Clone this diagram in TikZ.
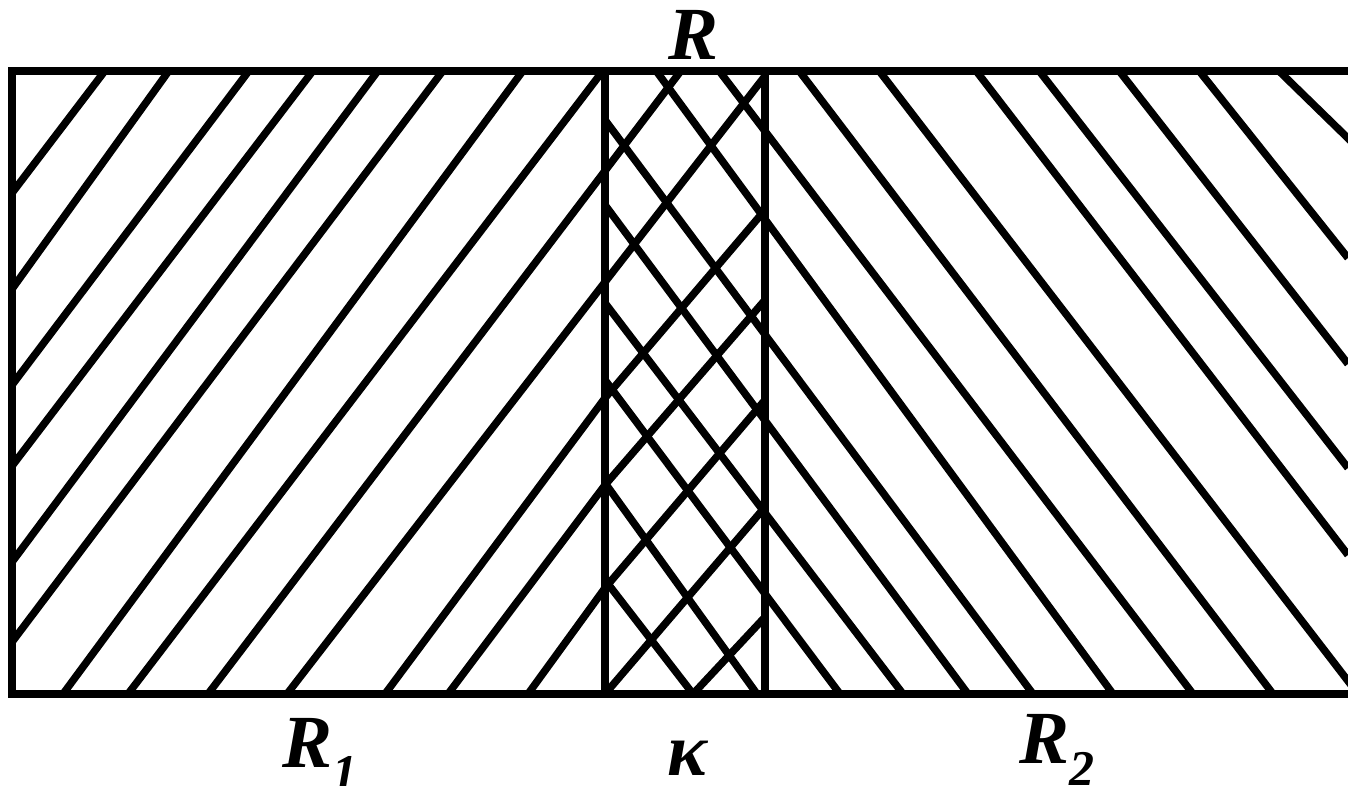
\documentclass[tikz,border=0pt]{standalone}
\usepackage{fontspec}
\setmainfont{Liberation Serif}
\newfontfamily\labfont{Liberation Serif}[UprightFont={* Bold Italic}]
\begin{document}
\begin{tikzpicture}[x=1pt,y=-1pt,
  frame/.style={line width=8.5pt, line join=miter},
  hatch/.style={line width=7.5pt},
  lab/.style={font=\fontsize{75}{75}\selectfont\labfont, inner sep=0pt, anchor=base}]
\useasboundingbox (0,0) rectangle (1348,786);
\begin{scope}
\clip (0,0) rectangle (1348,786);
% left region hatching (/) continuing through the strip
\draw[hatch] (12,193) -- (104,72);
\draw[hatch] (12,289) -- (168,72);
\draw[hatch] (12,385) -- (248,72);
\draw[hatch] (12,466) -- (312,72);
\draw[hatch] (12,562) -- (377,72);
\draw[hatch] (12,642) -- (442,72);
\draw[hatch] (63,694) -- (522,72);
\draw[hatch] (128,694) -- (602,72);
\draw[hatch] (208,694) -- (680,72);
\draw[hatch] (287,694) -- (605,282) -- (765,76);
\draw[hatch] (385,694) -- (605,398) -- (765,210);
\draw[hatch] (448,694) -- (605,485) -- (765,300);
\draw[hatch] (528,694) -- (605,588) -- (765,400);
\draw[hatch] (605,694) -- (765,507);
\draw[hatch] (693,694) -- (765,617);
% right region hatching (\) continuing through the strip
\draw[hatch] (720,72) -- (1193,694);
\draw[hatch] (657,72) -- (1113,694);
\draw[hatch] (605,120) -- (1033,694);
\draw[hatch] (605,205) -- (968,694);
\draw[hatch] (605,303) -- (903,694);
\draw[hatch] (605,380) -- (840,694);
\draw[hatch] (605,483) -- (757,694);
\draw[hatch] (605,580) -- (693,694);
\draw[hatch] (800,72) -- (1273,694);
\draw[hatch] (880,72) -- (1358,694);
\draw[hatch] (977,72) -- (1348,555);
\draw[hatch] (1040,72) -- (1348,468);
\draw[hatch] (1120,72) -- (1348,364);
\draw[hatch] (1200,72) -- (1348,258);
\draw[hatch] (1280,72) -- (1360,150);
% frame
\draw[frame] (1360,71) -- (12,71) -- (12,694) -- (1360,694);
\draw[frame] (605,71) -- (605,694);
\draw[frame] (765,71) -- (765,694);
\end{scope}
% labels
\node[lab] (r)  at (694,60)   {R};
\node[lab] (r1) at (320,767)  {R\raisebox{-22pt}{\fontsize{50}{50}\selectfont 1}};
\node[lab] (k)  at (687,775)  {κ};
\node[lab] (r2) at (1057,763) {R\raisebox{-22pt}{\fontsize{50}{50}\selectfont 2}};
\end{tikzpicture}
\end{document}
